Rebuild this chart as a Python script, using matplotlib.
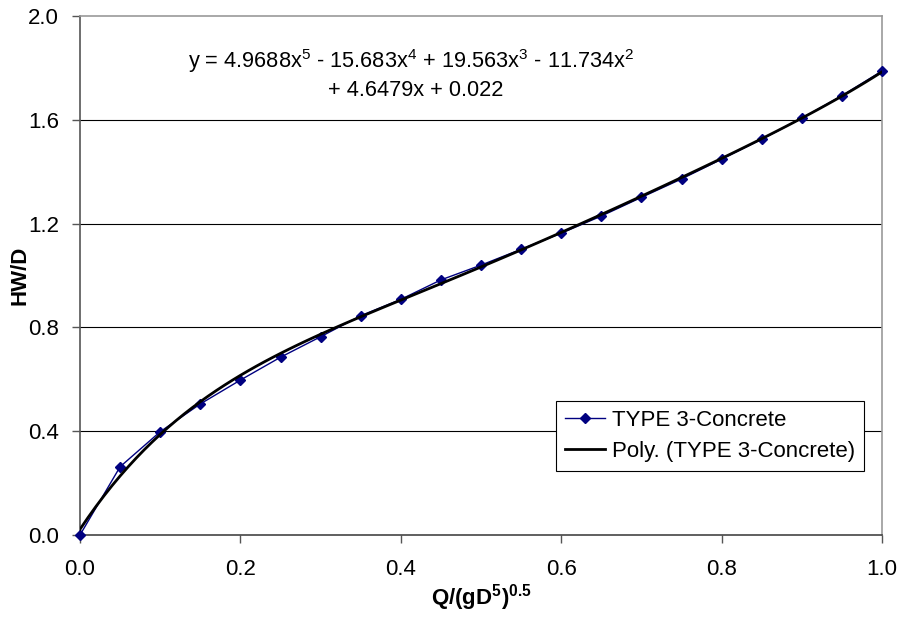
import numpy as np
import matplotlib
matplotlib.use('Agg')
import matplotlib.pyplot as plt

plt.rcParams['font.family'] = ['Liberation Sans', 'DejaVu Sans']
plt.rcParams['mathtext.fontset'] = 'custom'
plt.rcParams['mathtext.rm'] = 'Liberation Sans'
plt.rcParams['mathtext.bf'] = 'Liberation Sans:bold'

# Data
q = [0.0, 0.05, 0.10, 0.15, 0.20, 0.25, 0.30, 0.35, 0.40, 0.45, 0.50,
     0.55, 0.60, 0.65, 0.70, 0.75, 0.80, 0.85, 0.90, 0.95, 1.0]
hw_d = [0.0, 0.263, 0.398, 0.505, 0.597, 0.685, 0.764, 0.845, 0.908, 0.983, 1.040,
        1.101, 1.163, 1.229, 1.301, 1.372, 1.448, 1.525, 1.606, 1.693, 1.788]

# Trendline coefficients, highest power first (as printed on the chart)
poly_coef = [4.9688, -15.683, 19.563, -11.734, 4.6479, 0.022]

x_ticks = [0.0, 0.2, 0.4, 0.6, 0.8, 1.0]
y_ticks = [0.0, 0.4, 0.8, 1.2, 1.6, 2.0]

fig = plt.figure(figsize=(9.01, 6.18), dpi=100)
ax = fig.add_axes([80 / 901, 1 - 535 / 618, 802 / 901, 519 / 618])

# Horizontal gridlines
for yv in y_ticks[1:-1]:
    ax.axhline(yv, color='black', lw=0.8, zorder=1)

ax.plot(q, hw_d, color='#000080', lw=1.0, marker='D', markersize=5.3,
        label='TYPE 3-Concrete', zorder=3, clip_on=False)

x_fit = np.linspace(0, 1, 101)
ax.plot(x_fit, np.polyval(poly_coef, x_fit), color='black', lw=2.0,
        label='Poly. (TYPE 3-Concrete)', zorder=4)

ax.set_xlim(0, 1)
ax.set_ylim(0, 2)
ax.set_xticks(x_ticks)
ax.set_yticks(y_ticks)
ax.set_xticklabels([f'{v:.1f}' for v in x_ticks])
ax.set_yticklabels([f'{v:.1f}' for v in y_ticks])
ax.tick_params(direction='out', length=6, width=1, color='#555555',
               labelsize=16)
ax.tick_params(axis='x', pad=11)
ax.tick_params(axis='y', pad=9)

for side in ['top', 'right']:
    ax.spines[side].set_color('#999999')
ax.spines['left'].set_color('#555555')
ax.spines['bottom'].set_color('#444444')
for s in ax.spines.values():
    s.set_linewidth(1.2)

ax.set_xlabel(r'Q/(gD$^{\mathbf{5}}$)$^{\mathbf{0.5}}$', fontsize=16, fontweight='bold')
ax.set_ylabel('HW/D', fontsize=16, fontweight='bold')
ax.xaxis.set_label_coords(0.5, (535 - 582) / 519)
ax.yaxis.set_label_coords((31 - 80) / 802, 0.5)

ax.text(0.413, 1.80, r'y = 4.9688x$^5$ - 15.683x$^4$ + 19.563x$^3$ - 11.734x$^2$',
        ha='center', va='baseline', fontsize=15.7)
ax.text(0.418, 1.69, '+ 4.6479x + 0.022', ha='center', va='baseline', fontsize=15.7)

leg = ax.legend(loc='upper left', bbox_to_anchor=(556 / 901, 1 - 401 / 618),
                bbox_transform=fig.transFigure, fontsize=16, frameon=True,
                fancybox=False, edgecolor='black', framealpha=1,
                handlelength=1.8, handletextpad=0.3, borderpad=0.4,
                labelspacing=0.45, borderaxespad=0)
leg.get_frame().set_linewidth(0.8)

fig.savefig('out.png', dpi=100)
